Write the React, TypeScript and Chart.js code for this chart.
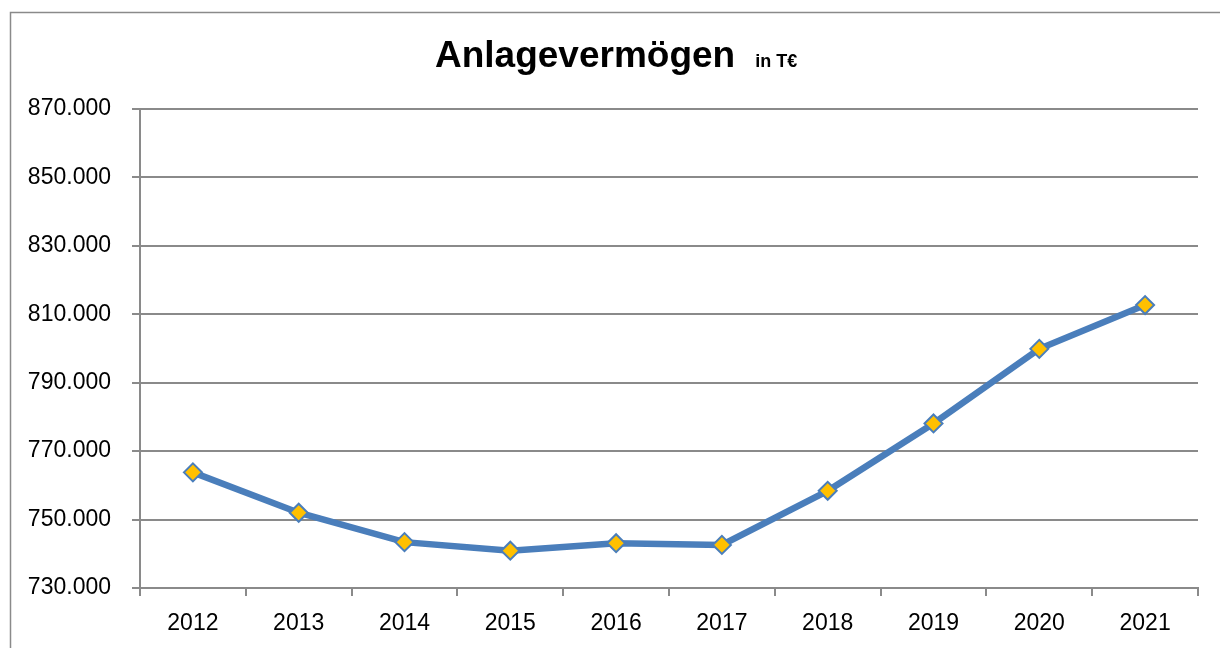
import React, { useEffect, useRef } from "react";
import { Chart, registerables } from "chart.js";

Chart.register(...registerables);

const years = ["2012", "2013", "2014", "2015", "2016", "2017", "2018", "2019", "2020", "2021"];
const anlagevermoegen = [763800, 752000, 743400, 740900, 743100, 742600, 758400, 778100, 799900, 812700];
const yMin = 730000;
const yMax = 870000;
const yStep = 20000;
const titleMain = "Anlagevermögen";
const titleUnit = "in T€";

const fmt = (v: number) => String(Math.round(v)).replace(/\B(?=(\d{3})+(?!\d))/g, ".");

const framePlugin = {
  id: "frameAndTitle",
  beforeDraw(chart: any) {
    const ctx = chart.ctx;
    ctx.save();
    ctx.fillStyle = "#ffffff";
    ctx.fillRect(0, 0, chart.width, chart.height);
    ctx.strokeStyle = "#8a8a8a";
    ctx.lineWidth = 1.5;
    ctx.strokeRect(10.5, 12.5, chart.width + 50, chart.height + 50);
    ctx.restore();
  },
  afterDraw(chart: any) {
    const ctx = chart.ctx;
    ctx.save();
    ctx.fillStyle = "#000000";
    ctx.textBaseline = "alphabetic";
    ctx.textAlign = "left";
    ctx.font = "bold 37px 'Liberation Sans', Arial, sans-serif";
    const w1 = ctx.measureText(titleMain).width;
    const x0 = 435;
    ctx.fillText(titleMain, x0, 67);
    ctx.font = "bold 18px 'Liberation Sans', Arial, sans-serif";
    ctx.fillText(titleUnit, Math.max(x0 + w1 + 20, 755), 67);
    ctx.restore();
  },
};

export default function App() {
  const ref = useRef<HTMLCanvasElement | null>(null);

  useEffect(() => {
    if (!ref.current) return;
    const chart = new Chart(ref.current, {
      type: "line",
      data: {
        labels: years,
        datasets: [
          {
            label: titleMain,
            data: anlagevermoegen,
            borderColor: "#4a7ebb",
            borderWidth: 6.5,
            tension: 0,
            pointStyle: "rectRot",
            pointRadius: 9,
            pointBorderWidth: 2,
            pointBackgroundColor: "#ffc000",
            pointBorderColor: "#4a7ebb",
            fill: false,
          },
        ],
      },
      options: {
        animation: false,
        responsive: false,
        devicePixelRatio: 1,
        layout: { padding: { left: 0, right: 22, top: 109, bottom: 0 } },
        plugins: {
          legend: { display: false },
          title: { display: false },
          tooltip: { enabled: false },
        },
        scales: {
          x: {
            type: "category",
            offset: true,
            afterFit: (s: any) => {
              s.height = 60;
            },
            grid: {
              offset: true,
              drawOnChartArea: false,
              drawTicks: true,
              tickLength: 8,
              color: "#8a8a8a",
              lineWidth: 2,
            },
            border: { display: true, color: "#8a8a8a", width: 2 },
            ticks: {
              color: "#000000",
              padding: 14,
              maxRotation: 0,
              autoSkip: false,
              font: { family: "'Liberation Sans', Arial, sans-serif", size: 23 },
            },
          },
          y: {
            min: yMin,
            max: yMax,
            afterFit: (s: any) => {
              s.width = 140;
            },
            grid: {
              drawOnChartArea: true,
              drawTicks: true,
              tickLength: 8,
              color: "#8a8a8a",
              lineWidth: 2,
            },
            border: { display: true, color: "#8a8a8a", width: 2 },
            ticks: {
              stepSize: yStep,
              color: "#000000",
              padding: 21,
              callback: (v: any) => fmt(Number(v)),
              font: { family: "'Liberation Sans', Arial, sans-serif", size: 23 },
            },
          },
        },
      },
      plugins: [framePlugin],
    });
    return () => chart.destroy();
  }, []);

  return (
    <div style={{ position: "fixed", left: 0, top: 0, width: 1220, height: 648, background: "#fff" }}>
      <canvas ref={ref} width={1220} height={648} style={{ display: "block" }} />
    </div>
  );
}
